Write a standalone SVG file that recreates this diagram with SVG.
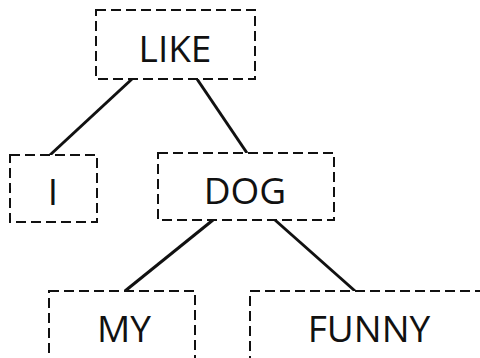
<svg xmlns="http://www.w3.org/2000/svg" width="480" height="358" viewBox="0 0 480 358">
  <style>
    .box { fill: #ffffff; stroke: #111111; stroke-width: 2; stroke-dasharray: 10 5; }
    .edge { stroke: #111111; stroke-width: 3; fill: none; }
    .label { font-family: "Open Sans", "Liberation Sans", Arial, sans-serif; font-size: 37px; fill: #111111; text-anchor: middle; }
  </style>
  <rect width="480" height="358" fill="#ffffff"/>
  <g id="connectors">
    <line class="edge" x1="132" y1="79" x2="50" y2="155"/>
    <line class="edge" x1="197" y1="79" x2="247" y2="153"/>
    <line class="edge" x1="213" y1="220" x2="125" y2="291"/>
    <line class="edge" x1="275" y1="220" x2="355" y2="291"/>
  </g>
  <g id="node-like">
    <rect class="box" x="96" y="10" width="159" height="69"/>
    <text class="label" x="175" y="62">LIKE</text>
  </g>
  <g id="node-i">
    <rect class="box" x="10" y="155" width="87" height="67"/>
    <text class="label" x="53" y="205">I</text>
  </g>
  <g id="node-dog">
    <rect class="box" x="158" y="153" width="176" height="67"/>
    <text class="label" x="245" y="204">DOG</text>
  </g>
  <g id="node-my">
    <rect class="box" x="49" y="291" width="146" height="80"/>
    <text class="label" x="124" y="342">MY</text>
  </g>
  <g id="node-funny">
    <rect class="box" x="250" y="291" width="250" height="80"/>
    <text class="label" x="369" y="342">FUNNY</text>
  </g>
</svg>
